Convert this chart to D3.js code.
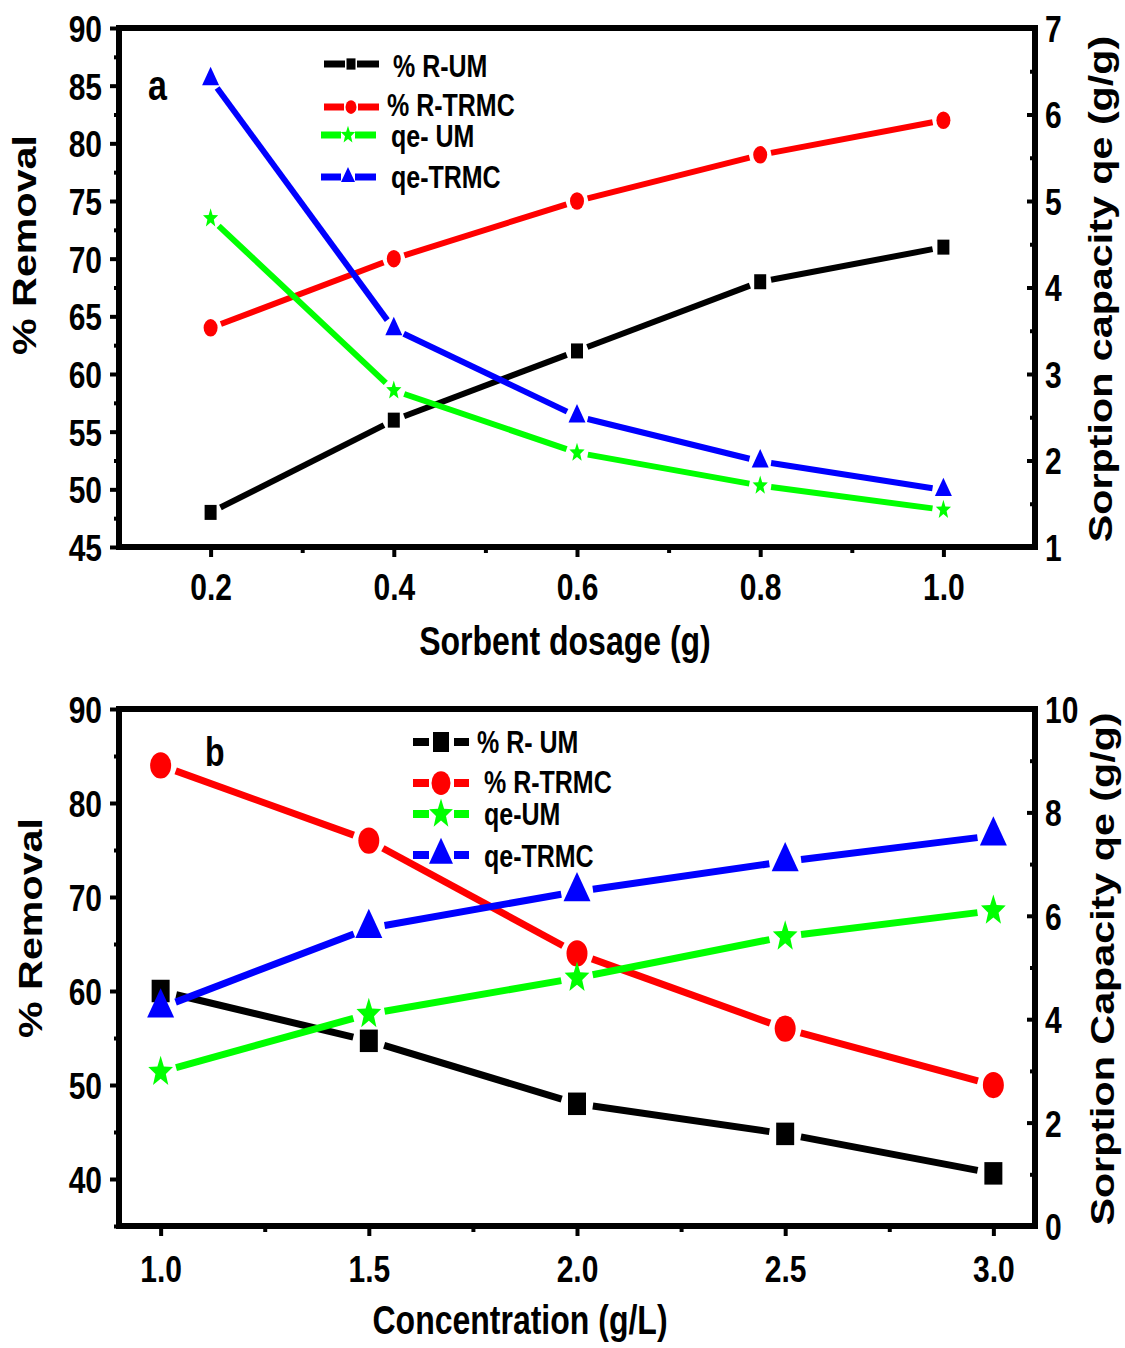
<!DOCTYPE html>
<html><head><meta charset="utf-8">
<script src="https://cdn.jsdelivr.net/npm/d3@7"></script>
<style>body{margin:0;background:#fff}</style>
</head><body>
<svg id="chart" width="1125" height="1348"></svg>
<script>
// ---------- DATA ----------
// Panel a : sorbent dosage
const dosage = [0.2, 0.4, 0.6, 0.8, 1.0];
const removalUM_a = [48, 56, 62, 68, 71];
const removalTRMC_a = [64, 70, 75, 79, 82];
const qeUM_a = [4.80, 2.81, 2.09, 1.71, 1.43];
const qeTRMC_a = [6.41, 3.52, 2.51, 1.99, 1.66];
const xTicksA = [0.2, 0.4, 0.6, 0.8, 1.0];
const xMinorA = [0.3, 0.5, 0.7, 0.9];
const yLTicksA = [45, 50, 55, 60, 65, 70, 75, 80, 85, 90];
const yLMinorA = [47.5, 52.5, 57.5, 62.5, 67.5, 72.5, 77.5, 82.5, 87.5];
const yRTicksA = [1, 2, 3, 4, 5, 6, 7];
const yRMinorA = [1.5, 2.5, 3.5, 4.5, 5.5, 6.5];
const legendA = ["% R-UM", "% R-TRMC", "qe- UM", "qe-TRMC"];

// Panel b : concentration
const concentration = [1.0, 1.5, 2.0, 2.5, 3.0];
const removalUM_b = [60, 54.7, 48, 44.8, 40.6];
const removalTRMC_b = [84, 76, 64, 56, 50];
const qeUM_b = [2.98, 4.1, 4.8, 5.6, 6.1];
const qeTRMC_b = [4.22, 5.76, 6.47, 7.05, 7.55];
const xTicksB = [1.0, 1.5, 2.0, 2.5, 3.0];
const xMinorB = [1.25, 1.75, 2.25, 2.75];
const yLTicksB = [40, 50, 60, 70, 80, 90];
const yLMinorB = [35, 45, 55, 65, 75, 85];
const yRTicksB = [0, 2, 4, 6, 8, 10];
const yRMinorB = [1, 3, 5, 7, 9];
const legendB = ["% R- UM", "% R-TRMC", "qe-UM", "qe-TRMC"];

const colors = ["#000000", "#ff0000", "#00ff00", "#0000ff"];
const markers = ["square", "circle", "star", "triangle"];

// ---------- DRAWING ----------
const svg = d3.select("#chart");
const SY = 1.25;
const FONT = "'Liberation Sans', Arial, Helvetica, sans-serif";

function markerPath(type, s) {
  if (type === "square") return `M${-s/2},${-s/2}h${s}v${s}h${-s}Z`;
  if (type === "circle") return d3.symbol(d3.symbolCircle, Math.PI * (s/2) * (s/2))();
  if (type === "star") {
    const R = s / 2, r = R * 0.42, pts = [];
    for (let i = 0; i < 10; i++) {
      const a = -Math.PI / 2 + i * Math.PI / 5, rr = i % 2 ? r : R;
      pts.push([rr * Math.cos(a), rr * Math.sin(a)]);
    }
    return "M" + pts.map(p => p.join(",")).join("L") + "Z";
  }
  const h = s * Math.sqrt(3) / 2;
  return `M0,${-2*h/3}L${s/2},${h/3}L${-s/2},${h/3}Z`;
}
function drawMarker(g, type, x, y, s, color) {
  g.append("path").attr("d", markerPath(type, s)).attr("fill", color)
    .attr("transform", `translate(${x},${y}) scale(1,${SY})`);
}
function drawSeries(g, xs, ys, xs_, ys_, color, type, size, lw, gap) {
  const pts = xs.map((d, i) => [xs_(d), ys_(ys[i])]);
  d3.pairs(pts).forEach(([a, b]) => {
    const dx = b[0] - a[0], dy = b[1] - a[1], L = Math.hypot(dx, dy);
    const ux = dx / L, uy = dy / L;
    g.append("line")
      .attr("x1", a[0] + ux * gap).attr("y1", a[1] + uy * gap)
      .attr("x2", b[0] - ux * gap).attr("y2", b[1] - uy * gap)
      .attr("stroke", color).attr("stroke-width", lw);
  });
  pts.forEach(p => drawMarker(g, type, p[0], p[1], size, color));
}
function styleAxis(sel, fs) {
  sel.select(".domain").remove();
  sel.selectAll(".tick line").attr("stroke", "#000").attr("stroke-width", 4);
  sel.selectAll("text").attr("font-family", FONT).attr("font-weight", "bold")
    .attr("font-size", fs).attr("fill", "#000");
}
function stext(g, txt, x, y, fs, anchor, rot) {
  const t = g.append("text").text(txt).attr("font-family", FONT).attr("font-weight", "bold")
    .attr("font-size", fs).attr("fill", "#000").attr("text-anchor", anchor || "start");
  if (rot) t.attr("transform", `translate(${x},${y}) rotate(-90) scale(${SY},1)`);
  else t.attr("transform", `translate(${x},${y}) scale(1,${SY})`);
  return t;
}

function panel(c) {
  const g = svg.append("g");
  const [x0, x1, y0, y1] = [c.x.range()[0], c.x.range()[1], c.yL.range()[1], c.yL.range()[0]];
  const fs = 30;
  // left axis
  g.append("g").attr("transform", `translate(${x0},0)`)
    .call(d3.axisLeft(c.yL).tickValues(c.yLT).tickSizeInner(9).tickSizeOuter(0).tickPadding(8).tickFormat(d3.format("d")))
    .call(s => styleAxis(s, fs))
    .call(s => s.selectAll("text").attr("dy", null).attr("y", 0.358 * fs).attr("transform", `scale(1,${SY})`));
  g.append("g").attr("transform", `translate(${x0},0)`)
    .call(d3.axisLeft(c.yL).tickValues(c.yLM).tickSizeInner(5).tickSizeOuter(0).tickFormat(""))
    .call(s => styleAxis(s, fs));
  // right axis
  g.append("g").attr("transform", `translate(${x1},0)`)
    .call(d3.axisRight(c.yR).tickValues(c.yRT).tickSizeInner(-8).tickSizeOuter(0).tickPadding(10).tickFormat(d3.format("d")))
    .call(s => styleAxis(s, fs))
    .call(s => s.selectAll("text").attr("dy", null).attr("y", 0.358 * fs).attr("transform", `scale(1,${SY})`));
  g.append("g").attr("transform", `translate(${x1},0)`)
    .call(d3.axisRight(c.yR).tickValues(c.yRM).tickSizeInner(-5).tickSizeOuter(0).tickFormat(""))
    .call(s => styleAxis(s, fs));
  // bottom axis
  g.append("g").attr("transform", `translate(0,${y1})`)
    .call(d3.axisBottom(c.x).tickValues(c.xT).tickSizeInner(10).tickSizeOuter(0).tickFormat(d3.format(".1f")))
    .call(s => styleAxis(s, fs))
    .call(s => s.selectAll("text").attr("dy", null).attr("y", c.xLabelDrop / SY).attr("transform", `scale(1,${SY})`));
  g.append("g").attr("transform", `translate(0,${y1})`)
    .call(d3.axisBottom(c.x).tickValues(c.xM).tickSizeInner(6).tickSizeOuter(0).tickFormat(""))
    .call(s => styleAxis(s, fs));
  // frame
  g.append("rect").attr("x", x0).attr("y", y0).attr("width", x1 - x0).attr("height", y1 - y0)
    .attr("fill", "none").attr("stroke", "#000").attr("stroke-width", 6);
  // series
  const plot = g.append("g");
  c.series.forEach((s, i) => drawSeries(plot, c.xs, s, c.x, i < 2 ? c.yL : c.yR, colors[i], markers[i], c.msize[i], c.lw, c.gap));
  // legend
  const lg = g.append("g");
  c.legend.forEach((lab, i) => {
    const L = c.leg[i];
    lg.append("line").attr("x1", L.a).attr("x2", L.b).attr("y1", L.y).attr("y2", L.y).attr("stroke", colors[i]).attr("stroke-width", c.legLw);
    lg.append("line").attr("x1", L.c).attr("x2", L.d).attr("y1", L.y).attr("y2", L.y).attr("stroke", colors[i]).attr("stroke-width", c.legLw);
    drawMarker(lg, markers[i], L.m, L.y, c.legSize[i], colors[i]);
    stext(lg, lab, L.tx, L.ty, 25);
  });
  // titles
  stext(g, c.letter[0], c.letter[1], c.letter[2], c.letter[3]);
  stext(g, c.xTitle, c.xTitlePos[0], c.xTitlePos[1], 32, "middle");
  stext(g, "% Removal", c.yLTitlePos[0], c.yLTitlePos[1], 33, "middle", true);
  stext(g, c.yRTitle, c.yRTitlePos[0], c.yRTitlePos[1], 33, "middle", true);
}

panel({
  x: d3.scaleLinear([0.1, 1.1], [119, 1035]),
  yL: d3.scaleLinear([45, 90], [547, 28]),
  yR: d3.scaleLinear([1, 7], [547, 28]),
  xT: xTicksA, xM: xMinorA, yLT: yLTicksA, yLM: yLMinorA, yRT: yRTicksA, yRM: yRMinorA,
  xLabelDrop: 53,
  xs: dosage,
  series: [removalUM_a, removalTRMC_a, qeUM_a, qeTRMC_a],
  msize: [12, 14, 16, 17], lw: 6, gap: 11,
  legend: legendA, legLw: 7, legSize: [9, 11, 15, 14],
  leg: [
    {a: 324, b: 345, c: 357, d: 379, m: 351, y: 64, tx: 393, ty: 77},
    {a: 324, b: 344, c: 358, d: 379, m: 351, y: 107, tx: 387, ty: 116},
    {a: 321, b: 341, c: 355, d: 376, m: 348, y: 135, tx: 391, ty: 147},
    {a: 321, b: 341, c: 355, d: 376, m: 348, y: 177, tx: 391, ty: 188}
  ],
  letter: ["a", 148, 100, 34],
  xTitle: "Sorbent dosage (g)", xTitlePos: [565, 655],
  yLTitlePos: [36, 245],
  yRTitle: "Sorption capacity qe (g/g)", yRTitlePos: [1112, 289]
});

panel({
  x: d3.scaleLinear([0.9, 3.1], [119, 1035]),
  yL: d3.scaleLinear([35, 90], [1226, 709]),
  yR: d3.scaleLinear([0, 10], [1226, 709]),
  xT: xTicksB, xM: xMinorB, yLT: yLTicksB, yLM: yLMinorB, yRT: yRTicksB, yRM: yRMinorB,
  xLabelDrop: 56,
  xs: concentration,
  series: [removalUM_b, removalTRMC_b, qeUM_b, qeTRMC_b],
  msize: [18, 21, 26, 27], lw: 7, gap: 16,
  legend: legendB, legLw: 8, legSize: [16, 19, 25, 24],
  leg: [
    {a: 413, b: 429, c: 454, d: 469, m: 441, y: 742, tx: 477, ty: 753},
    {a: 413, b: 429, c: 454, d: 469, m: 441, y: 783, tx: 484, ty: 793},
    {a: 413, b: 429, c: 454, d: 469, m: 441, y: 814, tx: 484, ty: 825},
    {a: 413, b: 429, c: 454, d: 469, m: 441, y: 855, tx: 484, ty: 867}
  ],
  letter: ["b", 205, 766, 32],
  xTitle: "Concentration (g/L)", xTitlePos: [520, 1334],
  yLTitlePos: [42, 928],
  yRTitle: "Sorption Capacity qe (g/g)", yRTitlePos: [1114, 969]
});
</script>
</body></html>
